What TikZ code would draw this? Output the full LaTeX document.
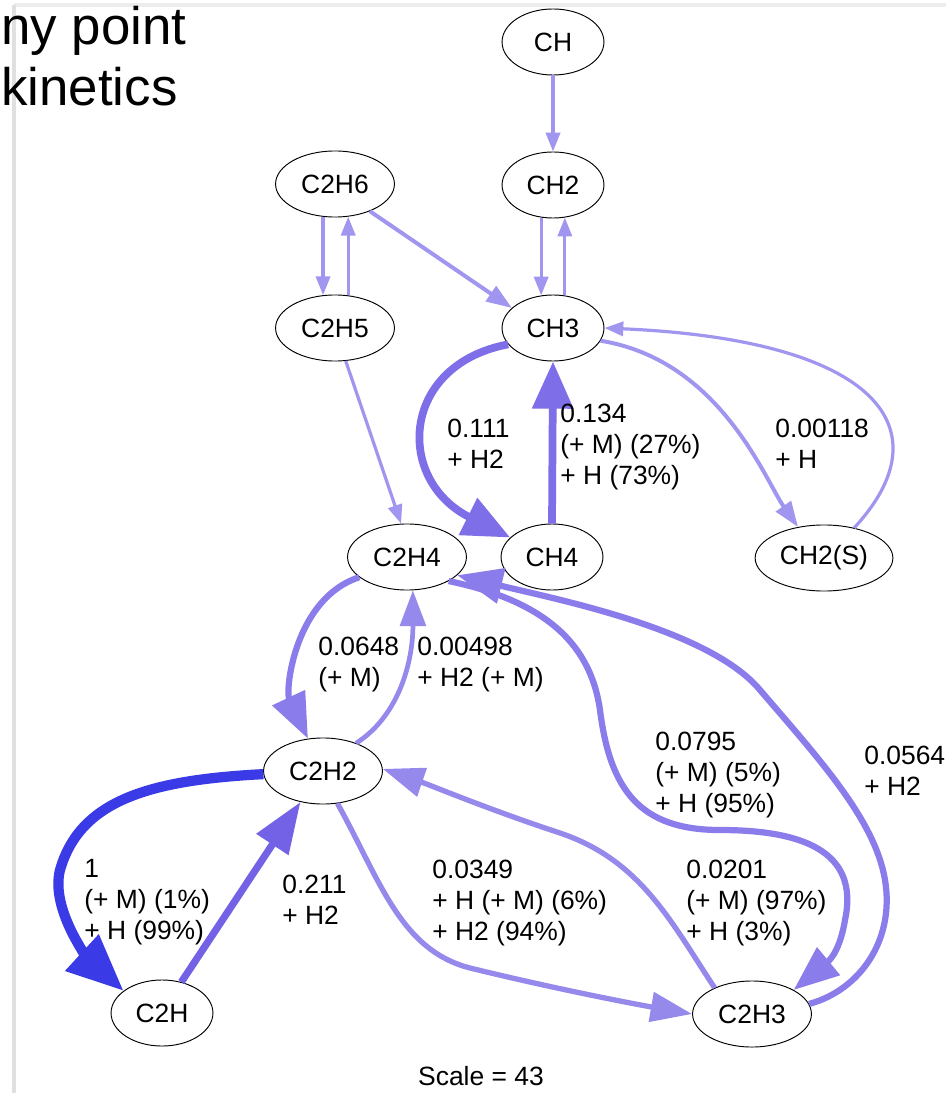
\documentclass[tikz,border=0pt]{standalone}
\usepackage{fontspec}
\setmainfont{Liberation Sans}
\usetikzlibrary{shapes.geometric,arrows.meta}
\definecolor{fluxA}{RGB}{160,150,240}
\definecolor{fluxB}{RGB}{150,137,236}
\definecolor{fluxC}{RGB}{138,124,234}
\definecolor{fluxD}{RGB}{126,110,232}
\definecolor{fluxE}{RGB}{116,98,230}
\definecolor{fluxF}{RGB}{58,58,230}
\newcommand{\gvfont}{\fontsize{14pt}{16.4pt}\selectfont}
\tikzset{
  species/.style={ellipse,draw,line width=.5pt,minimum width=54pt,minimum height=35pt,inner sep=0pt,font=\gvfont},
  wide/.style={minimum width=63pt},
  rate/.style={anchor=north west,align=left,inner sep=0pt,font=\gvfont},
  fa/.style={draw=fluxA,line width=1.7pt,-{Triangle[length=10pt,width=7.5pt]}},
  fb/.style={draw=fluxA,line width=2.1pt,-{Triangle[length=13.5pt,width=9.5pt]}},
  fc/.style={draw=fluxB,line width=2.5pt,-{Triangle[length=19pt,width=13.5pt]}},
  fd/.style={draw=fluxB,line width=2.8pt,-{Triangle[length=22pt,width=15.5pt]}},
  fe/.style={draw=fluxC,line width=3.3pt,-{Triangle[length=24pt,width=18.5pt]}},
  ff/.style={draw=fluxD,line width=4.1pt,-{Triangle[length=25pt,width=21pt]}},
  fg/.style={draw=fluxE,line width=3.8pt,-{Triangle[length=27pt,width=19.5pt]}},
  fh/.style={draw=fluxF,line width=5.4pt,-{Triangle[length=30pt,width=25pt]}}
}

\begin{document}
\begin{tikzpicture}[x=0.53pt,y=-0.53pt]
  \useasboundingbox (0,0) rectangle (946,1093);
  \fill[white] (0,0) rectangle (946,1093);
  \draw[line width=1.6pt,black!7] (14,5) -- (946,5);
  \draw[line width=1.6pt,black!12] (14,5) -- (14,1093);
  \node[anchor=base west,inner sep=0pt,font=\fontsize{28pt}{29pt}\selectfont] (title1) at (1,45) {ny point};
  \node[anchor=base west,inner sep=0pt,font=\fontsize{28pt}{29pt}\selectfont] (title2) at (1,106) {kinetics};

  % species
  \node[species] (CH) at (553,42) {CH};
  \node[species] (CH2) at (553,185) {CH2};
  \node[species,wide] (C2H6) at (335,184) {C2H6};
  \node[species,wide] (C2H5) at (335,328) {C2H5};
  \node[species] (CH3) at (553,328) {CH3};
  \node[species,wide] (C2H4) at (407,557) {C2H4};
  \node[species] (CH4) at (552,557) {CH4};
  \node[species,minimum width=73pt] (CH2S) at (824,558) {CH2(S)};
  \node[species,wide] (C2H2) at (323,771) {C2H2};
  \node[species] (C2H) at (162,1013) {C2H};
  \node[species,wide] (C2H3) at (752,1014) {C2H3};

  % fluxes
  \draw[fa] (CH) -- (CH2);
  \draw[fa] (CH2.250) -- (CH3.110);
  \draw[fa] (CH3.70) -- (CH2.290);
  \draw[fa] (C2H6.250) -- (C2H5.110);
  \draw[fa] (C2H5.68) -- (C2H6.292);
  \draw[fb] (C2H6.-38) -- (CH3.154);
  \draw[fa] (C2H5.-72) -- (C2H4.100);
  \draw[ff] (CH3.200) .. controls (400,365) and (395,480) .. (CH4.155);
  \draw[ff] (CH4.north) -- (CH3.south);
  \draw[fb] (CH3.-15) .. controls (720,360) and (765,480) .. (CH2S.130);
  \draw[fa] (CH2S.45) .. controls (945,430) and (880,340) .. (CH3.east);
  \draw[fe] (C2H4.203) .. controls (295,598) and (285,690) .. (C2H2.115);
  \draw[fc] (C2H2.40) .. controls (400,715) and (413,660) .. (C2H4.-80);
  \draw[fh] (C2H2.183) .. controls (150,780) and (80,800) .. (60,870)
    .. controls (50,910) and (90,960) .. (C2H.150);
  \draw[fg] (C2H.58) -- (C2H2.234);
  \draw[fd] (C2H2.-66) .. controls (380,880) and (400,950) .. (470,968)
    .. controls (560,990) and (640,1005) .. (C2H3.west);
  \draw[fd] (C2H3.145) .. controls (670,920) and (640,860) .. (560,833)
    .. controls (490,810) and (430,785) .. (C2H2.2);
  \draw[fe] (C2H4.-30) .. controls (540,600) and (590,640) .. (600,710)
    .. controls (610,790) and (640,830) .. (720,830)
    .. controls (800,830) and (860,850) .. (845,920)
    .. controls (840,950) and (830,960) .. (C2H3.30);
  \draw[fe] (C2H3.10) .. controls (860,990) and (895,940) .. (885,880)
    .. controls (875,820) and (820,760) .. (760,690)
    .. controls (710,630) and (560,600) .. (C2H4.-20);

  % rates
  \node[rate] (r111) at (447,419) {0.111\\+ H2};
  \node[rate] (r134) at (560,404) {0.134\\(+ M) (27\%)\\+ H (73\%)};
  \node[rate] (r118) at (775,419) {0.00118\\+ H};
  \node[rate] (r648) at (318,637) {0.0648\\(+ M)};
  \node[rate] (r498) at (417,637) {0.00498\\+ H2 (+ M)};
  \node[rate] (r1) at (84,859) {1\\(+ M) (1\%)\\+ H (99\%)};
  \node[rate] (r211) at (282,875) {0.211\\+ H2};
  \node[rate] (r349) at (432,860) {0.0349\\+ H (+ M) (6\%)\\+ H2 (94\%)};
  \node[rate] (r201) at (686,860) {0.0201\\(+ M) (97\%)\\+ H (3\%)};
  \node[rate] (r795) at (655,732) {0.0795\\(+ M) (5\%)\\+ H (95\%)};
  \node[rate] (r564) at (864,746) {0.0564\\+ H2};

  \node[anchor=base,inner sep=0pt,font=\gvfont] (scale) at (481,1085) {Scale = 43};
\end{tikzpicture}
\end{document}
